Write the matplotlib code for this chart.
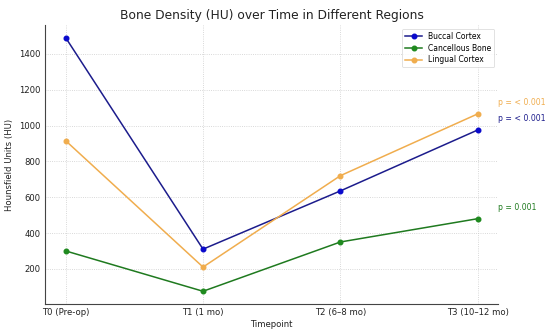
import matplotlib
matplotlib.use("Agg")
import matplotlib.pyplot as plt

timepoints = ["T0 (Pre-op)", "T1 (1 mo)", "T2 (6–8 mo)", "T3 (10–12 mo)"]
buccal = [1490, 310, 635, 975]
cancellous = [300, 75, 350, 480]
lingual = [915, 210, 720, 1065]
series_names = ["Buccal Cortex", "Cancellous Bone", "Lingual Cortex"]
p_labels = ["p = < 0.001", "p = 0.001", "p = < 0.001"]

line_colors = ["#1c1c8c", "#1f7a1f", "#f0ad4e"]
marker_colors = ["#0a0acc", "#1f8a1f", "#f0ad4e"]

fig, ax = plt.subplots(figsize=(5.5, 3.34), dpi=100)
fig.subplots_adjust(left=0.082, right=0.906, top=0.925, bottom=0.09)

x = list(range(len(timepoints)))
for vals, name, lc, mc in zip([buccal, cancellous, lingual], series_names, line_colors, marker_colors):
    ax.plot(x, vals, color=lc, marker="o", markersize=3.3, linewidth=1.1,
            markerfacecolor=mc, markeredgecolor=mc, label=name)

for vals, lab, lc in zip([buccal, cancellous, lingual], p_labels, line_colors):
    ax.text(3.15, vals[-1] + 65, lab, color=lc, fontsize=5.6, va="center", ha="left")

ax.set_xticks(x)
ax.set_xticklabels(timepoints, fontsize=6.1, color="#222222")
ax.tick_params(axis="y", labelsize=6.1, colors="#222222")
ax.tick_params(axis="both", length=0, pad=3)
ax.set_yticks([200, 400, 600, 800, 1000, 1200, 1400])
ax.set_title("Bone Density (HU) over Time in Different Regions", fontsize=8.8, color="#222222", pad=4)
ax.set_xlabel("Timepoint", fontsize=6.1, color="#222222", labelpad=2)
ax.set_ylabel("Hounsfield Units (HU)", fontsize=6.1, color="#222222", labelpad=4)
ax.grid(True, linestyle=":", linewidth=0.6, color="#cccccc")
for s in ["top", "right"]:
    ax.spines[s].set_visible(False)
for s in ["left", "bottom"]:
    ax.spines[s].set_linewidth(0.8)
    ax.spines[s].set_color("#444444")
leg = ax.legend(loc="upper right", fontsize=5.5, frameon=True, handlelength=2.2, labelspacing=0.35)
leg.get_frame().set_linewidth(0.5)
fig.savefig("out.png", dpi=100)
